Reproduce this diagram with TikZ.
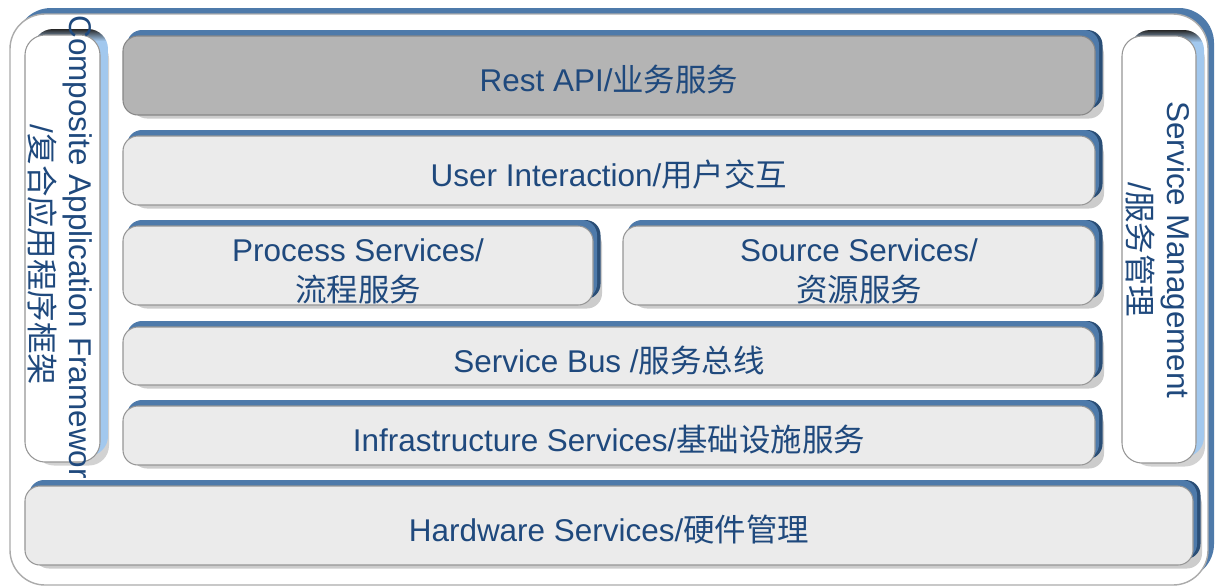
\documentclass[tikz,border=0pt]{standalone}
\usepackage{fontspec}
\setmainfont{Liberation Sans}
\newfontfamily\cjk{Noto Sans CJK SC}
\usetikzlibrary{shadows}
\definecolor{bvmid}{RGB}{78,122,170}
\definecolor{bvdark}{RGB}{42,78,118}
\definecolor{sidelight}{RGB}{162,200,238}
\definecolor{facegray}{RGB}{235,235,235}
\definecolor{restgray}{RGB}{180,180,180}
\definecolor{edgegray}{RGB}{150,150,150}
\definecolor{txtblue}{RGB}{31,73,125}
\pgfdeclareverticalshading{sidebevel}{100bp}{color(0bp)=(sidelight); color(73.6bp)=(sidelight); color(75bp)=(black!85); color(100bp)=(black!85)}
\begin{document}
\begin{tikzpicture}[
  bartext/.style={text=txtblue, align=center, font=\fontsize{17.9}{22.5}\selectfont},
  bar/.style={rectangle, rounded corners=0.3cm, fill=facegray, draw=edgegray, line width=0.6pt, inner sep=0pt, bartext,
    text height=0.72cm, text depth=0.08cm,
    drop shadow={shadow xshift=0.18cm, shadow yshift=-0.07cm, opacity=0.4},
    general shadow={fill=bvdark, shadow xshift=0.15cm, shadow yshift=0.12cm},
    general shadow={fill=bvmid, shadow xshift=0.08cm, shadow yshift=0.12cm}},
  twoline/.style={text height=1.5cm, text depth=0.08cm},
  side/.style={rectangle, rounded corners=0.4cm, fill=white, draw=edgegray, line width=0.6pt, inner sep=0pt,
    drop shadow={shadow xshift=0.18cm, shadow yshift=-0.07cm, opacity=0.35},
    general shadow={shade, shading=sidebevel, shadow xshift=0.16cm, shadow yshift=0.12cm}},
  frame/.style={rectangle, rounded corners=0.7cm, fill=white, draw=edgegray!80, line width=0.8pt, inner sep=0pt,
    general shadow={fill=bvmid, shadow xshift=0.12cm, shadow yshift=0.12cm}},
  sidetext/.style={bartext, rotate=-90, inner sep=0pt}]
\useasboundingbox (0,0) rectangle (24.34,-11.74);
\node[frame, minimum width=23.96cm, minimum height=11.42cm] (frame) at (12.18,-5.99) {};
\node[side, minimum width=1.5cm, minimum height=8.54cm] (composite) at (1.25,-4.97) {};
\node[sidetext] (compositelabel) at (1.2,-5.1) {Composite Application Framework\\/{\cjk 复合应用程序框架}};
\node[side, minimum width=1.48cm, minimum height=8.54cm] (management) at (23.18,-4.99) {};
\node[sidetext] (managementlabel) at (23.16,-5.0) {Service Management\\/{\cjk 服务管理}};
\node[bar, fill=restgray, draw=edgegray!90!black, minimum width=19.44cm, minimum height=1.58cm] (rest) at (12.18,-1.51) {Rest API/{\cjk 业务服务}};
\node[bar, minimum width=19.44cm, minimum height=1.38cm] (user) at (12.18,-3.41) {User Interaction/{\cjk 用户交互}};
\node[bar, twoline, minimum width=9.40cm, minimum height=1.58cm] (process) at (7.16,-5.31) {Process Services/\\{\cjk 流程服务}};
\node[bar, twoline, minimum width=9.44cm, minimum height=1.58cm] (source) at (17.18,-5.31) {Source Services/\\{\cjk 资源服务}};
\node[bar, minimum width=19.44cm, minimum height=1.16cm] (bus) at (12.18,-7.12) {Service Bus /{\cjk 服务总线}};
\node[bar, minimum width=19.44cm, minimum height=1.18cm] (infra) at (12.18,-8.71) {Infrastructure Services/{\cjk 基础设施服务}};
\node[bar, minimum width=23.36cm, minimum height=1.58cm] (hardware) at (12.18,-10.51) {Hardware Services/{\cjk 硬件管理}};
\end{tikzpicture}
\end{document}
